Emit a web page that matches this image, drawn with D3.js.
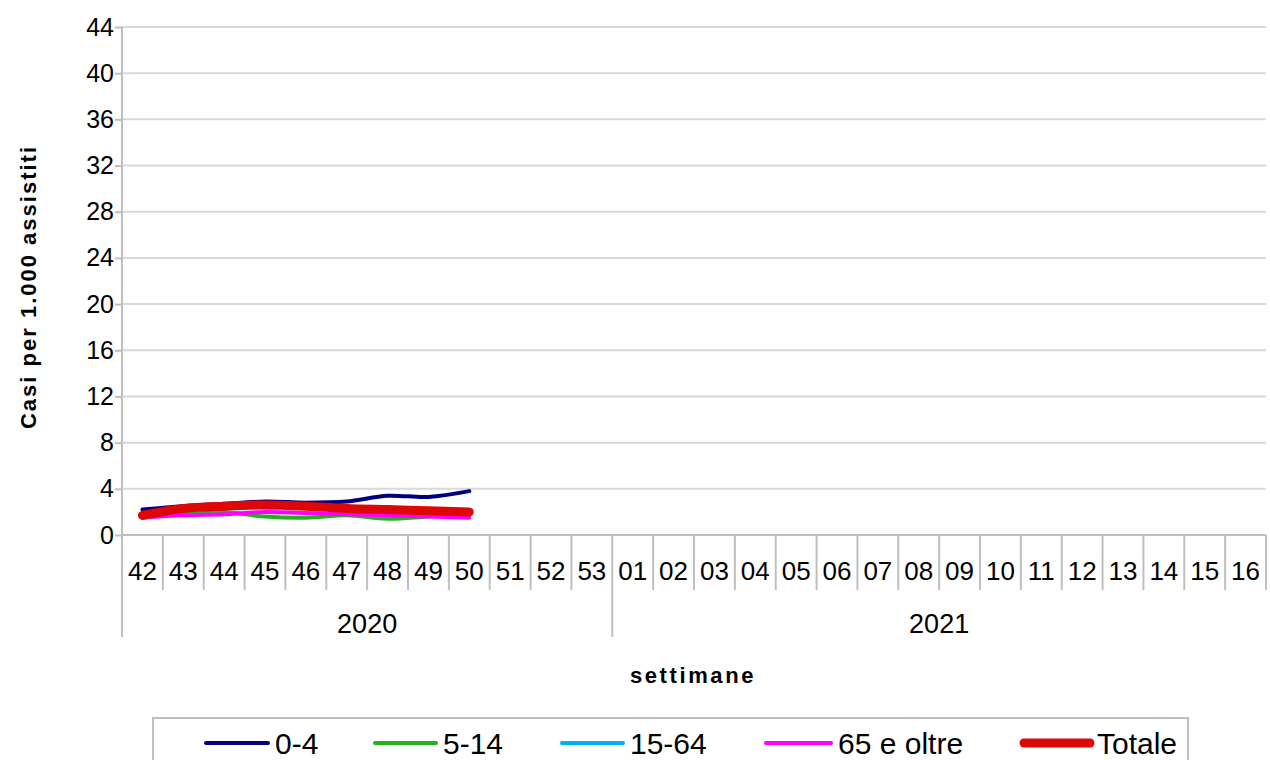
<!DOCTYPE html>
<html>
<head>
<meta charset="utf-8">
<script src="https://cdn.jsdelivr.net/npm/d3@7"></script>
<style>
    body { margin: 0; background: #fff; }
    text { font-family: 'Liberation Sans', Arial, sans-serif; fill: #000; }
</style>
</head>
<body>
<div class="visHolder"></div>
<script>
const settimane2020 = ['42', '43', '44', '45', '46', '47', '48', '49', '50', '51', '52', '53']
const settimane2021 = ['01', '02', '03', '04', '05', '06', '07', '08', '09', '10', '11', '12', '13', '14', '15', '16']
const anni = ['2020', '2021']
const yTicks = [0, 4, 8, 12, 16, 20, 24, 28, 32, 36, 40, 44]

const eta04 = [2.2, 2.5, 2.7, 2.9, 2.8, 2.9, 3.4, 3.3, 3.8]
const eta514 = [1.7, 2.0, 2.0, 1.6, 1.5, 1.7, 1.4, 1.6, 1.8]
const eta1564 = [1.6, 2.1, 2.4, 2.5, 2.4, 2.3, 2.1, 2.0, 1.9]
const eta65 = [1.5, 1.7, 1.8, 2.0, 1.9, 1.8, 1.7, 1.6, 1.5]
const totale = [1.7, 2.3, 2.5, 2.6, 2.5, 2.3, 2.2, 2.1, 2.0]

const serie = [
    { nome: '0-4', valori: eta04, colore: '#000080', spessore: 4 },
    { nome: '5-14', valori: eta514, colore: '#22b21e', spessore: 4 },
    { nome: '15-64', valori: eta1564, colore: '#00b0f0', spessore: 4 },
    { nome: '65 e oltre', valori: eta65, colore: '#ff00ff', spessore: 4 },
    { nome: 'Totale', valori: totale, colore: '#dd0806', spessore: 9 }
]

function init() {
    const width = 1270
    const height = 760
    const left = 122
    const right = 1266
    const top = 27
    const bottom = 535

    const categorie = settimane2020.map(s => '2020-' + s).concat(settimane2021.map(s => '2021-' + s))

    const svg = d3.select('.visHolder')
        .append('svg')
        .attr('width', width)
        .attr('height', height)

    const xScale = d3.scaleBand()
        .domain(categorie)
        .range([left, right])

    const yScale = d3.scaleLinear()
        .domain([0, 44])
        .range([bottom, top])

    // griglia
    svg.append('g')
        .selectAll('line')
        .data(yTicks.slice(1))
        .enter()
        .append('line')
        .attr('x1', left)
        .attr('x2', right)
        .attr('y1', d => yScale(d))
        .attr('y2', d => yScale(d))
        .attr('stroke', '#d9d9d9')
        .attr('stroke-width', 2)

    // asse y
    const yAxis = d3.axisLeft(yScale)
        .tickValues(yTicks)
        .tickSize(7)
        .tickPadding(1)

    const gy = svg.append('g')
        .attr('transform', `translate(${left}, 0)`)
        .call(yAxis)
    gy.select('.domain').remove()
    gy.selectAll('.tick line').attr('stroke', '#bfbfbf').attr('stroke-width', 2)
    gy.selectAll('.tick text')
        .style('font-family', "'Liberation Sans', Arial, sans-serif")
        .style('font-size', '25px')
        .attr('fill', '#000')

    svg.append('line')
        .attr('x1', left).attr('x2', left)
        .attr('y1', top).attr('y2', 637)
        .attr('stroke', '#bfbfbf').attr('stroke-width', 2)

    svg.append('line')
        .attr('x1', left).attr('x2', right)
        .attr('y1', bottom).attr('y2', bottom)
        .attr('stroke', '#bfbfbf').attr('stroke-width', 2)

    // asse x: settimane
    const bw = xScale.bandwidth()
    svg.append('g')
        .selectAll('line')
        .data(categorie)
        .enter()
        .append('line')
        .attr('x1', d => xScale(d) + bw)
        .attr('x2', d => xScale(d) + bw)
        .attr('y1', bottom)
        .attr('y2', d => d === '2020-53' ? 637 : 590)
        .attr('stroke', '#bfbfbf')
        .attr('stroke-width', 2)

    svg.append('g')
        .selectAll('text')
        .data(categorie)
        .enter()
        .append('text')
        .attr('x', d => xScale(d) + bw / 2)
        .attr('y', 580)
        .attr('text-anchor', 'middle')
        .style('font-size', '26px')
        .text(d => d.split('-')[1])

    const anniCentro = [
        (xScale('2020-42') + xScale('2020-53') + bw) / 2,
        (xScale('2021-01') + xScale('2021-16') + bw) / 2
    ]
    svg.append('g')
        .selectAll('text')
        .data(anni)
        .enter()
        .append('text')
        .attr('x', (d, i) => anniCentro[i])
        .attr('y', 633)
        .attr('text-anchor', 'middle')
        .style('font-size', '27px')
        .text(d => d)

    // titoli assi
    svg.append('text')
        .attr('x', 693)
        .attr('y', 683)
        .attr('text-anchor', 'middle')
        .style('font-size', '22px')
        .style('font-weight', 'bold')
        .style('letter-spacing', '2.6px')
        .text('settimane')

    svg.append('text')
        .attr('transform', 'translate(36, 287) rotate(-90)')
        .attr('text-anchor', 'middle')
        .style('font-size', '22px')
        .style('font-weight', 'bold')
        .style('letter-spacing', '2px')
        .text('Casi per 1.000 assistiti')

    // linee
    const linea = d3.line()
        .x((d, i) => xScale(categorie[i]) + bw / 2)
        .y(d => yScale(d))
        .curve(d3.curveCatmullRom.alpha(0.5))

    svg.append('g')
        .selectAll('path')
        .data(serie)
        .enter()
        .append('path')
        .attr('d', d => linea(d.valori))
        .attr('fill', 'none')
        .attr('stroke', d => d.colore)
        .attr('stroke-width', d => d.spessore)
        .attr('stroke-linecap', 'round')
        .attr('stroke-linejoin', 'round')

    // legenda
    svg.append('rect')
        .attr('x', 153)
        .attr('y', 718)
        .attr('width', 1035)
        .attr('height', 60)
        .attr('fill', '#fff')
        .attr('stroke', '#bfbfbf')
        .attr('stroke-width', 2)

    const legendaX = [206, 375, 562, 766, 1024]
    const legendaLungh = [62, 61, 61, 65, 66]
    const legenda = svg.append('g')
        .selectAll('g')
        .data(serie)
        .enter()
        .append('g')
        .attr('transform', (d, i) => `translate(${legendaX[i]}, 743)`)

    legenda.append('line')
        .attr('x1', 0).attr('x2', (d, i) => legendaLungh[i])
        .attr('y1', 0).attr('y2', 0)
        .attr('stroke', d => d.colore)
        .attr('stroke-width', d => d.spessore)
        .attr('stroke-linecap', 'round')

    legenda.append('text')
        .attr('x', (d, i) => legendaLungh[i] + 7)
        .attr('y', 11)
        .style('font-size', '30px')
        .text(d => d.nome)
}

init()
</script>
</body>
</html>
